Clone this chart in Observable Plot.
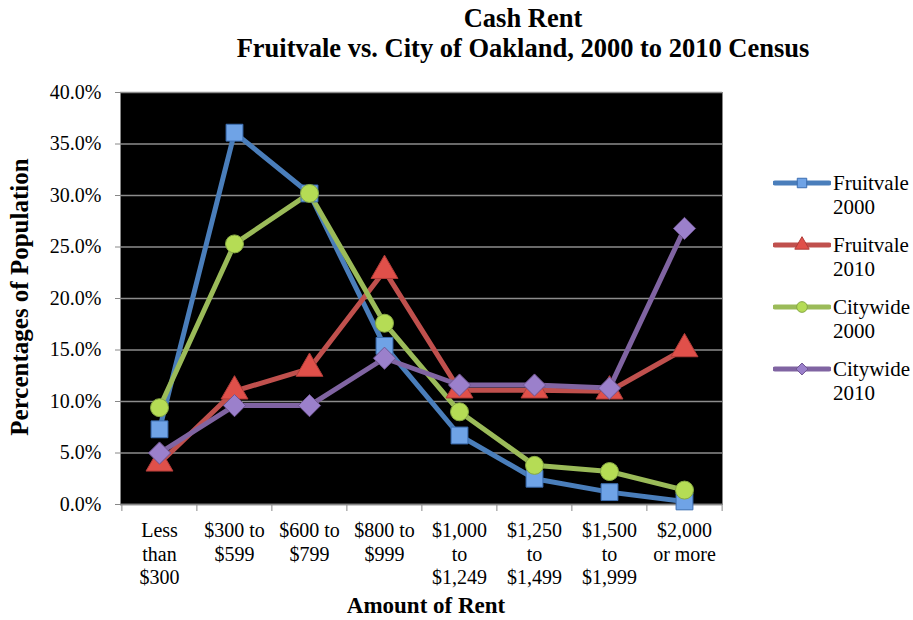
<!DOCTYPE html>
<html>
<head>
<meta charset="utf-8">
<script src="https://cdn.jsdelivr.net/npm/d3@7"></script>
<script src="https://cdn.jsdelivr.net/npm/@observablehq/plot@0.6"></script>
<style>
  body { margin: 0; background: #fff; }
  #wrap { position: relative; width: 913px; height: 620px; font-family: "Liberation Serif", "Times New Roman", serif; }
  #title { height: 80px; text-align: center; font-weight: bold; font-size: 26.5px; line-height: 30px; padding-top: 3px; box-sizing: border-box; padding-left: 133px; white-space: nowrap; }
  #ylab { position: absolute; left: 20px; top: 297px; transform: translate(-50%, -50%) rotate(-90deg); font-weight: bold; font-size: 25px; white-space: nowrap; }
  #xlab { position: absolute; left: 426px; top: 606px; transform: translate(-50%, -50%); font-weight: bold; font-size: 23px; white-space: nowrap; }
  #legend { position: absolute; left: 773px; top: 171px; font-size: 21px; }
  .li { display: flex; align-items: flex-start; height: 62px; }
  .li svg { flex: none; margin-top: 2px; }
  .li div { line-height: 24px; margin-left: 2px; }
</style>
</head>
<body>
<div id="wrap">
  <div id="title">Cash Rent<br>Fruitvale vs. City of Oakland, 2000 to 2010 Census</div>
  <div id="chart"></div>
  <div id="ylab">Percentages of Population</div>
  <div id="xlab">Amount of Rent</div>
  <div id="legend"></div>
</div>
<script>
const categories = ["Less\nthan\n$300", "$300 to\n$599", "$600 to\n$799", "$800 to\n$999", "$1,000\nto\n$1,249", "$1,250\nto\n$1,499", "$1,500\nto\n$1,999", "$2,000\nor more"];
const seriesNames = ["Fruitvale 2000", "Fruitvale 2010", "Citywide 2000", "Citywide 2010"];
const fruitvale2000 = [7.3, 36.1, 30.2, 15.4, 6.7, 2.5, 1.2, 0.3];
const fruitvale2010 = [4.0, 11.0, 13.2, 22.7, 11.1, 11.1, 11.0, 15.1];
const citywide2000 = [9.4, 25.3, 30.2, 17.6, 9.0, 3.8, 3.2, 1.4];
const citywide2010 = [5.0, 9.6, 9.6, 14.2, 11.6, 11.6, 11.3, 26.8];
const yTicks = [0, 5, 10, 15, 20, 25, 30, 35, 40];

const styles = {
  "Fruitvale 2000": {line: "#4a7ebb", fill: "#6fa3e6", stroke: "#3b6db0", symbol: "square", r: 9.5},
  "Fruitvale 2010": {line: "#c0504d", fill: "#e0504a", stroke: "#b03c38", symbol: "triangle", r: 10},
  "Citywide 2000": {line: "#9bbb59", fill: "#b5dc55", stroke: "#86a843", symbol: "circle", r: 9},
  "Citywide 2010": {line: "#8064a2", fill: "#9b80cb", stroke: "#6f5591", symbol: "diamond2", r: 10}
};

const allValues = [fruitvale2000, fruitvale2010, citywide2000, citywide2010];
const rows = [];
seriesNames.forEach((s, i) => {
  allValues[i].forEach((v, j) => rows.push({series: s, cat: categories[j], value: v / 100}));
});

const FONT = "Liberation Serif";
const W = 913, H = 540, ml = 120, mr = 191, mt = 12, mb = 116;
const step = (W - ml - mr) / categories.length;
const yTickVals = yTicks.map(d => d / 100);

const marks = [
  Plot.frame({fill: "black", stroke: "#888"}),
  Plot.gridY(yTickVals, {stroke: "#8c8c8c", strokeOpacity: 1, strokeWidth: 1.5}),
  Plot.axisY(yTickVals, {tickSize: 5, tickFormat: () => "", stroke: "#888", label: null}),
  Plot.text(yTickVals, {y: d => d, frameAnchor: "left", dx: -19, textAnchor: "end", text: d => (d * 100).toFixed(1) + "%", fontSize: 20, fontFamily: FONT, fill: "black"}),
  Plot.text(categories, {x: d => d, frameAnchor: "bottom", lineAnchor: "top", dy: 16, lineHeight: 1.17, text: d => d, fontSize: 20, fontFamily: FONT, fill: "black"}),
  Plot.ruleX(categories, {x: d => d, y1: 0, y2: 0, dx: -step / 2, insetBottom: -7, stroke: "#888"}),
  Plot.ruleX([categories[categories.length - 1]], {x: d => d, y1: 0, y2: 0, dx: step / 2, insetBottom: -7, stroke: "#888"}),
  Plot.ruleY([0], {stroke: "#888", strokeWidth: 1.5})
];
seriesNames.forEach(s => {
  const st = styles[s];
  const data = rows.filter(r => r.series === s);
  marks.push(Plot.line(data, {x: "cat", y: "value", stroke: st.line, strokeWidth: 5}));
});
seriesNames.forEach(s => {
  const st = styles[s];
  const data = rows.filter(r => r.series === s);
  marks.push(Plot.dot(data, {x: "cat", y: "value", symbol: () => st.symbol, r: st.r, fill: st.fill, stroke: st.stroke, strokeWidth: 1}));
});

const chart = Plot.plot({
  width: W, height: H,
  marginLeft: ml, marginRight: mr, marginTop: mt, marginBottom: mb,
  x: {type: "point", domain: categories, padding: 0.5, axis: null},
  y: {domain: [0, 0.4], axis: null},
  symbol: {type: "identity"},
  style: "font-family: 'Liberation Serif', serif; font-size: 18px; color: black; background: white;",
  marks
});
document.getElementById("chart").appendChild(chart);

// legend
const leg = document.getElementById("legend");
const symPath = {square: d3.symbolSquare, triangle: d3.symbolTriangle, circle: d3.symbolCircle, diamond2: d3.symbolDiamond2};
seriesNames.forEach(s => {
  const st = styles[s];
  const item = document.createElement("div");
  item.className = "li";
  const ns = "http://www.w3.org/2000/svg";
  const svg = document.createElementNS(ns, "svg");
  svg.setAttribute("width", 58); svg.setAttribute("height", 20);
  const ln = document.createElementNS(ns, "line");
  ln.setAttribute("x1", 2); ln.setAttribute("x2", 56); ln.setAttribute("y1", 10); ln.setAttribute("y2", 10);
  ln.setAttribute("stroke", st.line); ln.setAttribute("stroke-width", 5); ln.setAttribute("stroke-linecap", "round");
  svg.appendChild(ln);
  const p = document.createElementNS(ns, "path");
  p.setAttribute("d", d3.symbol(symPath[st.symbol], 90)());
  p.setAttribute("transform", "translate(29,10)");
  p.setAttribute("fill", st.fill); p.setAttribute("stroke", st.stroke);
  svg.appendChild(p);
  item.appendChild(svg);
  const t = document.createElement("div");
  const parts = s.split(" ");
  t.innerHTML = parts[0] + "<br>" + parts[1];
  item.appendChild(t);
  leg.appendChild(item);
});
</script>
</body>
</html>
